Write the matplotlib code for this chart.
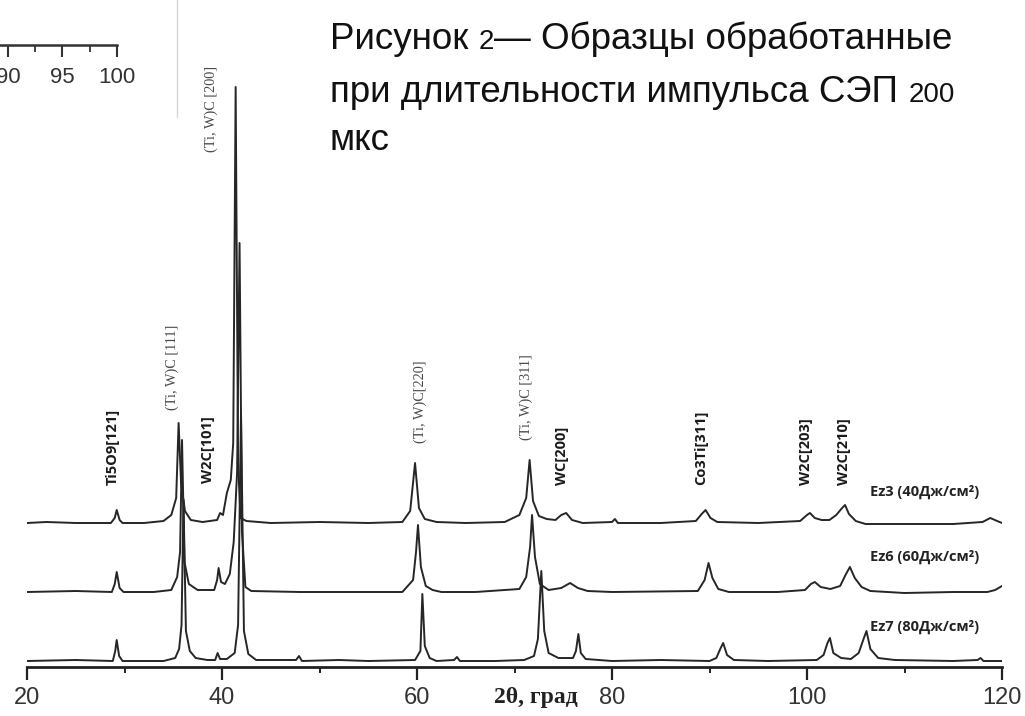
import matplotlib
matplotlib.use('Agg')
import matplotlib.pyplot as plt
from matplotlib import font_manager
from matplotlib.lines import Line2D
from matplotlib.ticker import MultipleLocator
import numpy as np

# ---- data (2theta, intensity above own baseline, a.u.) ----
ez3_x = [20, 22, 25, 28.6, 29.0, 29.2, 29.5, 29.8, 32, 34, 34.8, 35.3, 35.55, 35.8, 36.2, 36.8, 38,
         39.5, 39.8, 40.1, 40.5, 40.9, 41.15, 41.4, 41.65, 41.9, 42.5, 45, 50, 55, 58.5, 59.3, 59.8,
         60.2, 60.8, 62, 65, 69, 70.5, 71.2, 71.55, 71.9, 72.5, 73.3, 74.2, 74.8, 75.3, 75.9, 77, 80,
         80.3, 80.6, 85, 88.6, 89.2, 89.6, 90.1, 90.8, 95, 99.3, 100.0, 100.3, 100.8, 101.5, 102.3,
         103.0, 103.6, 103.9, 104.3, 105.0, 106, 110, 115, 118.0, 118.8, 119.5, 120]
ez3_y = [0, 1, 0, 0, 5, 13, 3, 0, 0, 2, 8, 25, 100, 40, 12, 3, 1,
         3, 10, 8, 30, 43, 80, 436, 60, 5, 2, 0, 1, 0, 1, 12, 60,
         15, 4, 1, 0, 1, 8, 25, 63, 22, 7, 4, 3, 8, 10, 3, 0, 1,
         4, 0, 0, 2, 9, 13, 5, 1, 0, 2, 8, 10, 5, 3, 3,
         8, 15, 18, 9, 2, -1, -1, -1, 1, 5, 2, 0]

ez6_x = [20, 25, 28.7, 29.0, 29.2, 29.5, 29.9, 33, 34.8, 35.4, 35.7, 35.9, 36.15, 36.6, 37.5, 39.2,
         39.5, 39.65, 39.9, 40.3, 40.8, 41.2, 41.55, 41.8, 42.05, 42.4, 43, 48, 55, 58.5, 59.6, 59.9,
         60.1, 60.4, 60.9, 61.6, 62.5, 66, 70.5, 71.2, 71.6, 71.8, 72.1, 72.6, 73.5, 74.8, 75.7, 76.5,
         77.5, 80, 88.8, 89.5, 89.9, 90.3, 90.9, 92, 97, 99.8, 100.4, 100.8, 101.4, 102.4, 103.4,
         104.0, 104.4, 104.9, 105.6, 106.5, 110, 115, 118.5, 119.3, 120]
ez6_y = [0, 1, 0, 8, 20, 4, 0, 0, 2, 15, 40, 152, 30, 8, 2, 2,
         12, 24, 10, 8, 18, 50, 120, 349, 60, 5, 1, 0, 0, 0, 12, 40,
         67, 25, 6, 2, 0, 0, 3, 15, 45, 77, 35, 8, 2, 4, 9, 4,
         1, 0, 1, 12, 29, 14, 3, 0, 0, 2, 8, 10, 5, 3, 6,
         18, 25, 14, 5, 1, -1, 0, 0, 2, 6]

ez7_x = [20, 25, 28.8, 29.05, 29.2, 29.45, 29.8, 34, 35.2, 35.6, 35.85, 36.05, 36.3, 36.7, 37.3, 38.5,
         39.3, 39.55, 39.8, 40.5, 41.3, 41.65, 41.95, 42.25, 42.7, 43.5, 47.6, 47.9, 48.2, 52, 55,
         59.8, 60.35, 60.55, 60.8, 61.3, 62, 63.8, 64.1, 64.4, 68, 71, 72.0, 72.4, 72.75, 73.05, 73.5,
         74.5, 76.0, 76.3, 76.55, 76.8, 77.3, 80, 85, 90, 90.7, 91.1, 91.4, 91.8, 92.5, 96, 101, 101.7,
         102.1, 102.35, 102.7, 103.5, 104.5, 105.3, 105.8, 106.1, 106.5, 107.3, 109, 115, 117.5, 117.8,
         118.1, 120]
ez7_y = [0, 1, 0, 10, 21, 5, 0, 0, 3, 12, 36, 161, 30, 10, 3, 1,
         1, 8, 2, 2, 8, 36, 248, 30, 7, 1, 1, 5, 0, 1, 0,
         1, 10, 67, 15, 3, 0, 1, 4, 0, 0, 1, 5, 22, 90, 30, 8,
         3, 3, 10, 27, 8, 2, 0, 1, 0, 3, 12, 18, 6, 1, 0, 1, 6,
         18, 23, 8, 3, 2, 8, 22, 30, 12, 3, 1, 0, 1, 3,
         0, 0]

baselines = [144, 75, 6]   # Ez3, Ez6, Ez7
sample_labels = ['Ez3 (40Дж/см²)', 'Ez6 (60Дж/см²)', 'Ez7 (80Дж/см²)']

phase_labels = ['Ti5O9[121]', 'W2C[101]', 'WC[200]', 'Co3Ti[311]', 'W2C[203]', 'W2C[210]']
phase_pos = [28.8, 38.55, 74.9, 89.1, 99.9, 103.8]
tic_labels = ['(Ti, W)C [111]', '(Ti, W)C [200]', '(Ti, W)C[220]', '(Ti, W)C [311]']
tic_pos = [34.9, 38.9, 60.3, 71.2]

# title lines split in pieces: (text, is_digit_piece)
title_lines = [
    [('Рисунок ', False), ('2', True), ('— Образцы обработанные', False)],
    [('при длительности импульса СЭП ', False), ('200', True)],
    [('мкс', False)],
]

W, H = 1025, 716
fig = plt.figure(figsize=(W / 100, H / 100), dpi=100)

# main axes: 2theta 20..120 spans x pixels 27..1002, axis line at y pixel 667
ax = fig.add_axes([27 / W, (H - 667) / H, 975 / W, 667 / H])
ax.set_xlim(20, 120)
ax.set_ylim(0, 667)

line_kw = dict(color='#262626', linewidth=1.4, solid_joinstyle='round')
for xs, ys, base in zip([ez3_x, ez6_x, ez7_x], [ez3_y, ez6_y, ez7_y], baselines):
    ax.plot(xs, np.array(ys) + base, **line_kw)

for s in ['left', 'right', 'top']:
    ax.spines[s].set_visible(False)
ax.spines['bottom'].set_linewidth(2.0)
ax.spines['bottom'].set_color('#222222')
ax.set_yticks([])
ax.xaxis.set_major_locator(MultipleLocator(20))
ax.xaxis.set_minor_locator(MultipleLocator(10))
ax.tick_params(axis='x', which='major', direction='out', length=9.5, width=1.6, color='#222222',
               pad=5, labelsize=17, labelcolor='#333333')
ax.tick_params(axis='x', which='minor', direction='out', length=4.5, width=1.4, color='#222222')
for lab in ax.get_xticklabels():
    lab.set_family('Liberation Sans')

# x-axis label sitting between the tick labels
ax.text(72.2, -30, '2θ, град', ha='center', va='center', fontsize=17, fontweight='bold',
        family='Liberation Serif', color='#222222', clip_on=False)


def ypix(p):
    return 667 - p


for lab, xp in zip(phase_labels, phase_pos):
    bottom = 485 if lab != 'W2C[101]' else 483
    ax.text(xp, ypix(bottom), lab, rotation=90, ha='center', va='bottom', fontsize=10.5,
            fontweight='bold', family='Open Sans', color='#1a1a1a')

tic_bottoms = [410, 152, 443, 440]
for lab, xp, b in zip(tic_labels, tic_pos, tic_bottoms):
    ax.text(xp, ypix(b), lab, rotation=90, ha='center', va='bottom', fontsize=10.3,
            family='Liberation Serif', color='#4a4a4a')

for lab, yc in zip(sample_labels, [492, 557, 627]):
    ax.text(106.5, ypix(yc), lab, ha='left', va='center', fontsize=10.5, fontweight='bold',
            family='Open Sans', color='#222222')

# title block (top right), digits drawn slightly smaller like the reference
renderer = fig.canvas.get_renderer()
for pieces, yb in zip(title_lines, [49, 102, 150]):
    xpix = 330
    for txt, small in pieces:
        t = fig.text(xpix / W, 1 - yb / H, txt, ha='left', va='baseline',
                     fontsize=20 if small else 26.5, family='Liberation Sans', color='#111111')
        xpix += t.get_window_extent(renderer).width

# leftover fragment of another figure in the top-left corner
ax2 = fig.add_axes([0, (H - 45) / H, 117 / W, 0.001])
ax2.set_xlim(89.27, 100)
ax2.set_ylim(0, 1)
for s in ['left', 'right', 'top']:
    ax2.spines[s].set_visible(False)
ax2.spines['bottom'].set_linewidth(1.8)
ax2.spines['bottom'].set_color('#333333')
ax2.patch.set_alpha(0)
ax2.set_yticks([])
ax2.xaxis.set_major_locator(MultipleLocator(5))
ax2.xaxis.set_minor_locator(MultipleLocator(2.5))
ax2.tick_params(axis='x', which='major', direction='out', length=8.5, width=1.5, color='#333333',
                pad=7, labelsize=16, labelcolor='#333333')
ax2.tick_params(axis='x', which='minor', direction='out', length=5, width=1.3, color='#333333')
for lab in ax2.get_xticklabels():
    lab.set_family('Liberation Sans')
fig.add_artist(Line2D([177 / W, 177 / W], [1, 1 - 117 / H], color='#d6d6d6', linewidth=1.0))

fig.savefig('out.png', dpi=100)
